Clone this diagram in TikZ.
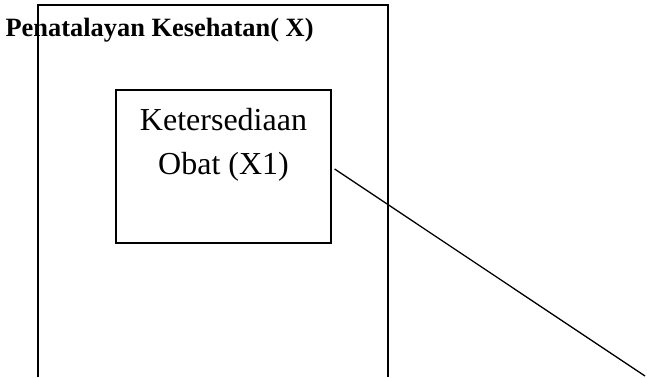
\documentclass[tikz,border=0pt]{standalone}
\usepackage{fontspec}
\setmainfont{Liberation Serif}
\begin{document}
\begin{tikzpicture}[x=1pt,y=-1pt,line width=1.2pt,
  frame/.style={draw=black},
  varbox/.style={draw=black,minimum width=215pt,minimum height=153pt,inner sep=0pt},
  boxtext/.style={anchor=base,inner sep=0pt,font=\fontsize{32}{38}\selectfont},
  link/.style={draw=black,line width=1.3pt}]
\useasboundingbox (0,0) rectangle (647,377);
% outer frame, open at the bottom
\draw[frame] (38,377) -- (38,5) -- (388,5) -- (388,377);
% title of the variable group
\node[anchor=base west,inner sep=0pt,font=\bfseries\fontsize{26.4}{30}\selectfont] (title) at (5,37) {Penatalayan Kesehatan( X)};
% indicator box
\node[varbox] (obat) at (223.5,166.5) {};
\node[boxtext] (obatA) at (223.5,131) {Ketersediaan};
\node[boxtext] (obatB) at (223.5,174) {Obat (X1)};
% connector leaving the box
\coordinate (end) at (645,376);
\draw[link] ([xshift=3pt,yshift=-2.5pt]obat.east) -- (end);
\end{tikzpicture}
\end{document}
